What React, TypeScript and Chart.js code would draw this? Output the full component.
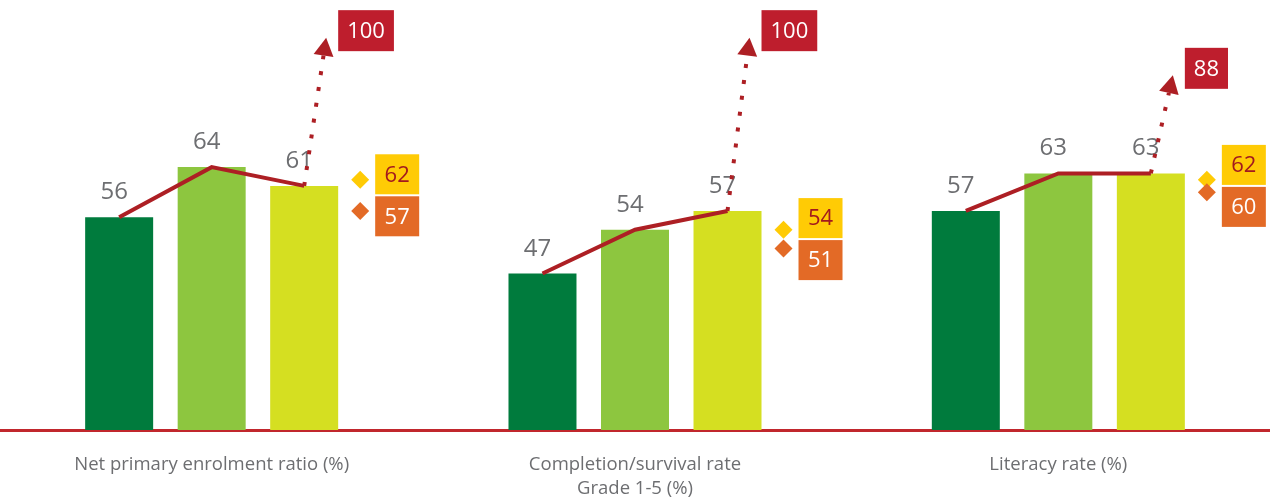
import React, { useEffect, useRef } from "react";
import { Chart, registerables } from "chart.js";

Chart.register(...registerables);

// ---- data ----
const categories: (string | string[])[] = [
  "Net primary enrolment ratio (%)",
  ["Completion/survival rate", "Grade 1-5 (%)"],
  "Literacy rate (%)",
];
const series1 = [56, 47, 57];
const series2 = [64, 54, 63];
const series3 = [61, 57, 63];
const targets = [100, 100, 88];
const markerYellow = [62, 54, 62];
const markerOrange = [57, 51, 60];

// ---- styles ----
const DARK_GREEN = "#007B3D";
const LIGHT_GREEN = "#8DC63F";
const LIME = "#D5DF21";
const LINE_RED = "#AD1F24";
const BOX_RED = "#BE1E2D";
const YELLOW = "#FFCB05";
const ORANGE = "#E36A26";
const DARK_RED_TEXT = "#A3191E";
const GRAY = "#6D6E71";
const FONT = '"Open Sans", "DejaVu Sans", sans-serif';

const overlayPlugin = {
  id: "overlay",
  afterDraw(chart: any) {
    const ctx: CanvasRenderingContext2D = chart.ctx;
    const yScale = chart.scales.y;
    const y2Scale = chart.scales.y2;
    const metas = [0, 1, 2].map((i) => chart.getDatasetMeta(i));
    const seriesList = [series1, series2, series3];

    for (let i = 0; i < categories.length; i++) {
      const pts = metas.map((m: any) => ({ x: m.data[i].x, y: m.data[i].y }));
      ctx.save();

      // value labels above bars
      ctx.font = `24px ${FONT}`;
      ctx.fillStyle = GRAY;
      ctx.textAlign = "center";
      ctx.textBaseline = "alphabetic";
      seriesList.forEach((s, k) => {
        ctx.fillText(String(s[i]), pts[k].x - 5, pts[k].y - 18);
      });

      // connecting line
      ctx.strokeStyle = LINE_RED;
      ctx.lineWidth = 4;
      ctx.lineJoin = "miter";
      ctx.beginPath();
      pts.forEach((p, k) => (k ? ctx.lineTo(p.x, p.y) : ctx.moveTo(p.x, p.y)));
      ctx.stroke();

      // dotted arrow to target
      const start = pts[2];
      const tipX = start.x + 22;
      const tipY = y2Scale.getPixelForValue(targets[i]);
      const ang = Math.atan2(tipY - start.y, tipX - start.x);
      const head = 18;
      const baseX = tipX - head * Math.cos(ang);
      const baseY = tipY - head * Math.sin(ang);
      ctx.setLineDash([4, 12]);
      ctx.lineWidth = 4;
      ctx.lineCap = "butt";
      ctx.beginPath();
      ctx.moveTo(start.x, start.y);
      ctx.lineTo(baseX, baseY);
      ctx.stroke();
      ctx.setLineDash([]);
      const px = -Math.sin(ang);
      const py = Math.cos(ang);
      ctx.fillStyle = LINE_RED;
      ctx.beginPath();
      ctx.moveTo(tipX, tipY);
      ctx.lineTo(baseX + px * 10, baseY + py * 10);
      ctx.lineTo(baseX - px * 10, baseY - py * 10);
      ctx.closePath();
      ctx.fill();

      // target box
      ctx.font = `22px ${FONT}`;
      const tText = String(targets[i]);
      const tw = ctx.measureText(tText).width + 18;
      const bx = tipX + 12;
      const bcy = tipY - 7;
      ctx.fillStyle = BOX_RED;
      ctx.fillRect(bx, bcy - 20.5, tw, 41);
      ctx.fillStyle = "#FFFFFF";
      ctx.textAlign = "center";
      ctx.textBaseline = "middle";
      ctx.fillText(tText, bx + tw / 2, bcy + 1);

      // diamonds
      const dx = start.x + 56;
      const yy = yScale.getPixelForValue(markerYellow[i]);
      const yo = yScale.getPixelForValue(markerOrange[i]);
      const diamond = (cx: number, cy: number, r: number, col: string) => {
        ctx.fillStyle = col;
        ctx.beginPath();
        ctx.moveTo(cx, cy - r);
        ctx.lineTo(cx + r, cy);
        ctx.lineTo(cx, cy + r);
        ctx.lineTo(cx - r, cy);
        ctx.closePath();
        ctx.fill();
      };
      diamond(dx, yy, 9, YELLOW);
      diamond(dx, yo, 9, ORANGE);

      // marker boxes (kept from overlapping)
      let cyY = yy;
      let cyO = yo;
      if (cyO - cyY < 42) {
        const mid = (cyY + cyO) / 2;
        cyY = mid - 21;
        cyO = mid + 21;
      }
      const mbx = start.x + 71;
      const drawBox = (cy: number, bg: string, fg: string, txt: string) => {
        ctx.fillStyle = bg;
        ctx.fillRect(mbx, cy - 20, 44, 40);
        ctx.fillStyle = fg;
        ctx.font = `22px ${FONT}`;
        ctx.textAlign = "center";
        ctx.textBaseline = "middle";
        ctx.fillText(txt, mbx + 22, cy + 1);
      };
      drawBox(cyY, YELLOW, DARK_RED_TEXT, String(markerYellow[i]));
      drawBox(cyO, ORANGE, "#FFFFFF", String(markerOrange[i]));

      ctx.restore();
    }
  },
};

export default function App() {
  const canvasRef = useRef<HTMLCanvasElement | null>(null);

  useEffect(() => {
    if (!canvasRef.current) return;
    const barCommon = { categoryPercentage: 0.6556, barPercentage: 0.735, yAxisID: "y", xAxisID: "x" };
    const chart = new Chart(canvasRef.current, {
      type: "bar",
      data: {
        labels: categories as any,
        datasets: [
          { label: "Series 1", data: series1, backgroundColor: DARK_GREEN, ...barCommon },
          { label: "Series 2", data: series2, backgroundColor: LIGHT_GREEN, ...barCommon },
          { label: "Series 3", data: series3, backgroundColor: LIME, ...barCommon },
        ],
      },
      options: {
        responsive: false,
        animation: false,
        layout: { padding: 0 },
        plugins: {
          legend: { display: false },
          tooltip: { enabled: false },
        },
        scales: {
          x: {
            z: 1,
            grid: { display: false },
            border: { display: true, color: "#C1272D", width: 3 },
            ticks: {
              color: GRAY,
              font: { family: FONT, size: 18.5, lineHeight: 1.27 },
              padding: 15,
              maxRotation: 0,
              autoSkip: false,
            },
            afterFit: (s: any) => {
              s.height = 72;
            },
          },
          y: { display: false, min: 22, max: 90.7 },
          y2: { display: false, min: -25, max: 112 },
        },
      },
      plugins: [overlayPlugin],
    } as any);
    return () => chart.destroy();
  }, []);

  return (
    <canvas
      ref={canvasRef}
      width={1270}
      height={502}
      style={{ position: "absolute", left: 0, top: 0 }}
    />
  );
}
